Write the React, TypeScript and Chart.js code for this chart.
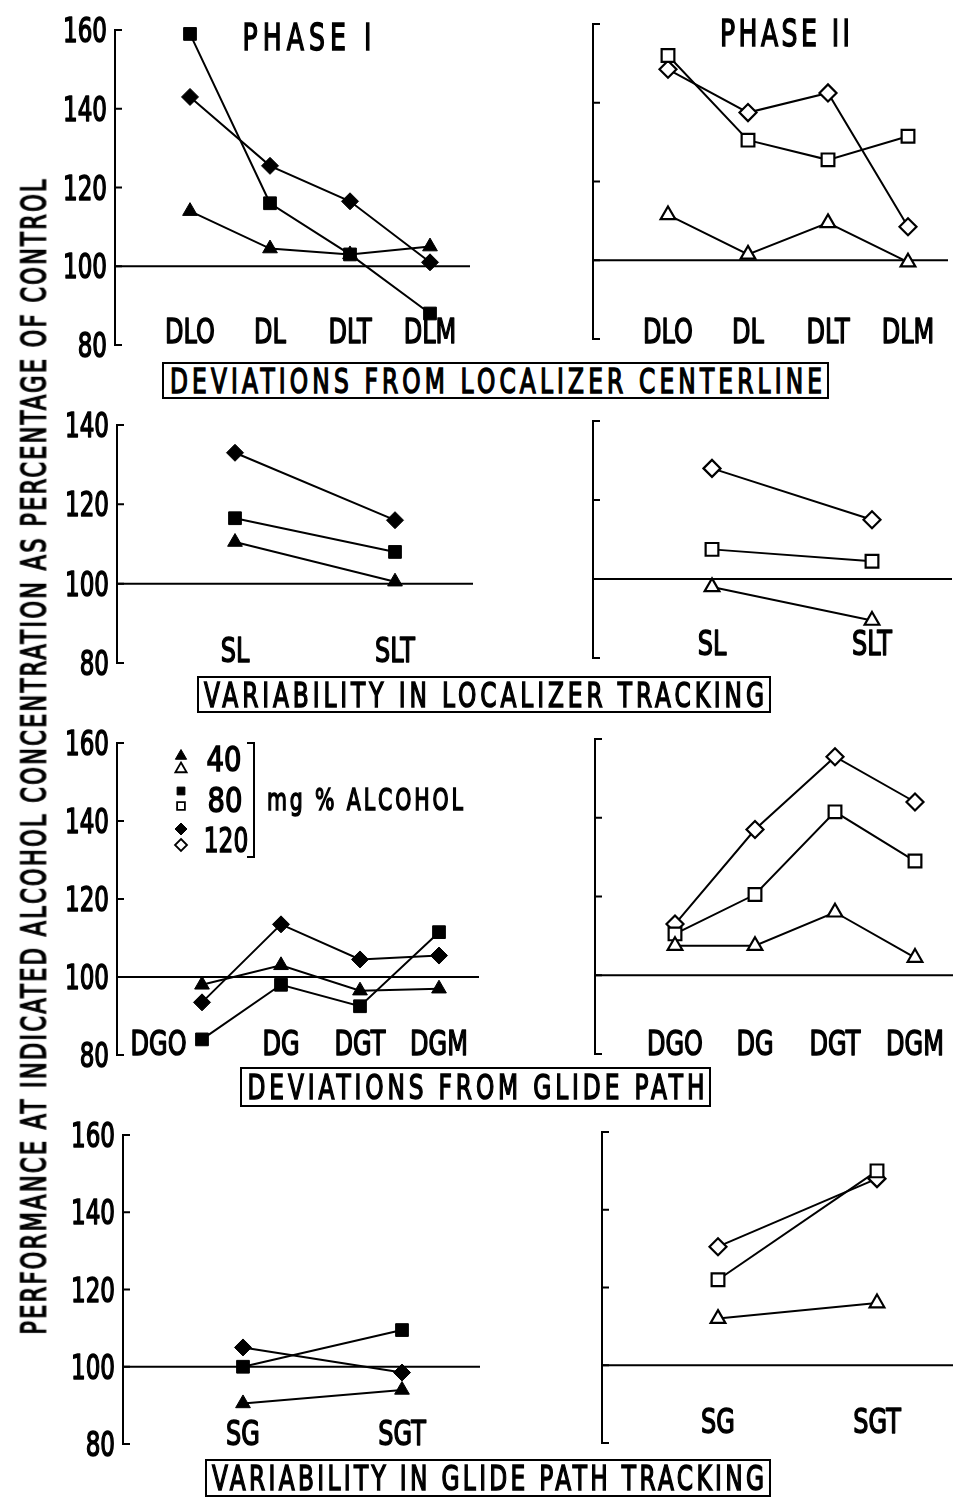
import React, { useEffect, useRef } from 'react';
import { Chart, registerables } from 'chart.js';

Chart.register(...registerables);

// ---- values: performance as % of control, per dose (40, 80, 120 mg %) ----
const Y_TICKS_160 = [80, 100, 120, 140, 160];
const Y_TICKS_140 = [80, 100, 120, 140];

const DEV_LOC_CATS = ['DLO', 'DL', 'DLT', 'DLM'];
const DEV_LOC_P1_40 = [114, 104.5, 103, 105];
const DEV_LOC_P1_80 = [159, 116, 103, 88];
const DEV_LOC_P1_120 = [143, 125.5, 116.5, 101];
const DEV_LOC_P2_40 = [111.5, 101.5, 109.5, 99.5];
const DEV_LOC_P2_80 = [152, 130.5, 125.5, 131.5];
const DEV_LOC_P2_120 = [148.5, 137.5, 142.5, 108.5];

const VAR_LOC_CATS = ['SL', 'SLT'];
const VAR_LOC_P1_40 = [110.5, 100.5];
const VAR_LOC_P1_80 = [116.5, 108];
const VAR_LOC_P1_120 = [133, 116];
const VAR_LOC_P2_40 = [98, 89.5];
const VAR_LOC_P2_80 = [107.5, 104.5];
const VAR_LOC_P2_120 = [128, 115];

const DEV_GLIDE_CATS = ['DGO', 'DG', 'DGT', 'DGM'];
const DEV_GLIDE_P1_40 = [98, 103, 96.5, 97];
const DEV_GLIDE_P1_80 = [84, 98, 92.5, 111.5];
const DEV_GLIDE_P1_120 = [93.5, 113.5, 104.5, 105.5];
const DEV_GLIDE_P2_40 = [107.5, 107.5, 116, 104.5];
const DEV_GLIDE_P2_80 = [110.5, 120.5, 141.5, 129];
const DEV_GLIDE_P2_120 = [113, 137, 155.5, 144];

const VAR_GLIDE_CATS = ['SG', 'SGT'];
const VAR_GLIDE_P1_40 = [90.5, 94];
const VAR_GLIDE_P1_80 = [100, 109.5];
const VAR_GLIDE_P1_120 = [105, 98.5];
const VAR_GLIDE_P2_40 = [112, 116];
const VAR_GLIDE_P2_80 = [122, 150];
const VAR_GLIDE_P2_120 = [130.5, 148];

const DOSE_LABELS = ['40', '80', '120'];

// ---- styling ----
type Marker = 'triangle' | 'rect' | 'rectRot';
const DOSE_MARKERS: Marker[] = ['triangle', 'rect', 'rectRot'];
const DOSE_RADII = [8.5, 9, 8.5];

const FONT = '"DejaVu Sans", "Liberation Sans", Arial, sans-serif';
const CAP = 0.729; // cap height / em for DejaVu Sans
const SQUEEZE = 0.7; // narrow lettering-guide style for axis labels
const CAPTION_SQUEEZE = 0.68;
const PEN = 1.2; // extra outline giving the letters a pen-like weight

let measureCtx: CanvasRenderingContext2D | null = null;
function textWidth(text: string, size: number): number {
  if (!measureCtx) measureCtx = document.createElement('canvas').getContext('2d');
  measureCtx!.font = `${size}px ${FONT}`;
  return measureCtx!.measureText(text).width;
}

function drawLetters(
  ctx: CanvasRenderingContext2D,
  text: string,
  x: number,
  y: number,
  cap: number,
  align: CanvasTextAlign
) {
  const size = cap / CAP;
  ctx.save();
  ctx.font = `${size}px ${FONT}`;
  ctx.textAlign = align;
  ctx.textBaseline = 'alphabetic';
  ctx.fillStyle = '#000';
  ctx.strokeStyle = '#000';
  ctx.lineJoin = 'round';
  ctx.translate(x, y + cap / 2);
  ctx.scale(SQUEEZE, 1);
  ctx.lineWidth = PEN * 1.3;
  ctx.fillText(text, 0, 0);
  ctx.strokeText(text, 0, 0);
  ctx.restore();
}

function drawShape(
  ctx: CanvasRenderingContext2D,
  style: Marker,
  cx: number,
  cy: number,
  r: number,
  filled: boolean
) {
  ctx.beginPath();
  if (style === 'triangle') {
    ctx.moveTo(cx, cy - r);
    ctx.lineTo(cx + r * 0.866, cy + r / 2);
    ctx.lineTo(cx - r * 0.866, cy + r / 2);
    ctx.closePath();
  } else if (style === 'rect') {
    const s = r * Math.SQRT1_2;
    ctx.rect(cx - s, cy - s, 2 * s, 2 * s);
  } else {
    ctx.moveTo(cx, cy - r);
    ctx.lineTo(cx + r, cy);
    ctx.lineTo(cx, cy + r);
    ctx.lineTo(cx - r, cy);
    ctx.closePath();
  }
  ctx.fillStyle = filled ? '#000' : '#fff';
  ctx.fill();
  ctx.lineWidth = filled ? 1 : 1.8;
  ctx.strokeStyle = '#000';
  ctx.stroke();
}

interface Layout {
  axisX: number;
  topY: number;
  bottomY: number;
  endX: number;
  firstX: number;
  step: number;
  labelValue: number;
  showTicks: boolean;
  firstLabelAt?: number;
}

interface Panel {
  cats: string[];
  series: number[][];
  filled: boolean;
  yTicks: number[];
  layout: Layout;
  legend?: boolean;
}

const PANELS: Panel[] = [
  {
    cats: DEV_LOC_CATS,
    series: [DEV_LOC_P1_40, DEV_LOC_P1_80, DEV_LOC_P1_120],
    filled: true,
    yTicks: Y_TICKS_160,
    layout: { axisX: 115, topY: 30, bottomY: 345, endX: 470, firstX: 190, step: 80, labelValue: 83.6, showTicks: true },
  },
  {
    cats: DEV_LOC_CATS,
    series: [DEV_LOC_P2_40, DEV_LOC_P2_80, DEV_LOC_P2_120],
    filled: false,
    yTicks: Y_TICKS_160,
    layout: { axisX: 593, topY: 24, bottomY: 339, endX: 948, firstX: 668, step: 80, labelValue: 82.2, showTicks: false },
  },
  {
    cats: VAR_LOC_CATS,
    series: [VAR_LOC_P1_40, VAR_LOC_P1_80, VAR_LOC_P1_120],
    filled: true,
    yTicks: Y_TICKS_140,
    layout: { axisX: 117, topY: 425, bottomY: 663, endX: 473, firstX: 235, step: 160, labelValue: 83.3, showTicks: true },
  },
  {
    cats: VAR_LOC_CATS,
    series: [VAR_LOC_P2_40, VAR_LOC_P2_80, VAR_LOC_P2_120],
    filled: false,
    yTicks: Y_TICKS_140,
    layout: { axisX: 593, topY: 421, bottomY: 658, endX: 952, firstX: 712, step: 160, labelValue: 83.8, showTicks: false },
  },
  {
    cats: DEV_GLIDE_CATS,
    series: [DEV_GLIDE_P1_40, DEV_GLIDE_P1_80, DEV_GLIDE_P1_120],
    filled: true,
    yTicks: Y_TICKS_160,
    legend: true,
    layout: { axisX: 117, topY: 743, bottomY: 1055, endX: 479, firstX: 202, step: 79, labelValue: 83.1, showTicks: true, firstLabelAt: -0.55 },
  },
  {
    cats: DEV_GLIDE_CATS,
    series: [DEV_GLIDE_P2_40, DEV_GLIDE_P2_80, DEV_GLIDE_P2_120],
    filled: false,
    yTicks: Y_TICKS_160,
    layout: { axisX: 595, topY: 739, bottomY: 1054, endX: 953, firstX: 675, step: 80, labelValue: 82.8, showTicks: false },
  },
  {
    cats: VAR_GLIDE_CATS,
    series: [VAR_GLIDE_P1_40, VAR_GLIDE_P1_80, VAR_GLIDE_P1_120],
    filled: true,
    yTicks: Y_TICKS_160,
    layout: { axisX: 123, topY: 1135, bottomY: 1444, endX: 480, firstX: 243, step: 159, labelValue: 83.1, showTicks: true },
  },
  {
    cats: VAR_GLIDE_CATS,
    series: [VAR_GLIDE_P2_40, VAR_GLIDE_P2_80, VAR_GLIDE_P2_120],
    filled: false,
    yTicks: Y_TICKS_160,
    layout: { axisX: 602, topY: 1132, bottomY: 1443, endX: 953, firstX: 718, step: 159, labelValue: 85.7, showTicks: false },
  },
];

// legend key: filled / open pairs for each dose (page coordinates)
const LEGEND_KEY_X = 181;
const LEGEND_KEY_Y = [[756, 769], [791, 806], [829, 845]];
const LEGEND_KEY_R = [6.5, 5.5, 6];

function PanelChart({ panel }: { panel: Panel }) {
  const ref = useRef<HTMLCanvasElement>(null);
  const L = panel.layout;
  const padL = L.showTicks ? 62 : 12;
  const padR = 12;
  const padT = 16;
  const padB = 14;
  const left = L.axisX - padL;
  const top = L.topY - padT;
  const width = L.endX - L.axisX + padL + padR;
  const height = L.bottomY - L.topY + padT + padB;
  const yMax = panel.yTicks[panel.yTicks.length - 1];

  useEffect(() => {
    const framePlugin = {
      id: 'frame',
      beforeDatasetsDraw(chart: any) {
        const { ctx, chartArea: a, scales } = chart;
        const x = scales.x;
        const y = scales.y;
        ctx.save();
        ctx.strokeStyle = '#000';
        ctx.lineWidth = 2;
        ctx.lineCap = 'square';
        ctx.beginPath();
        ctx.moveTo(a.left, y.getPixelForValue(yMax));
        ctx.lineTo(a.left, y.getPixelForValue(80));
        for (const t of panel.yTicks) {
          const py = y.getPixelForValue(t);
          ctx.moveTo(a.left, py);
          ctx.lineTo(a.left + 6, py);
        }
        ctx.stroke();
        // control level (100 %)
        const y100 = y.getPixelForValue(100);
        ctx.beginPath();
        ctx.lineCap = 'butt';
        ctx.moveTo(a.left, y100);
        ctx.lineTo(a.right, y100);
        ctx.stroke();
        ctx.restore();

        if (L.showTicks) {
          for (const t of panel.yTicks) {
            drawLetters(ctx, String(t), a.left - 8, y.getPixelForValue(t), 24, 'right');
          }
        }
        const ly = y.getPixelForValue(L.labelValue);
        panel.cats.forEach((c, i) => {
          const pos = i === 0 && L.firstLabelAt !== undefined ? L.firstLabelAt : i;
          drawLetters(ctx, c, x.getPixelForValue(pos), ly, 25, 'center');
        });
      },
      afterDatasetsDraw(chart: any) {
        if (!panel.legend) return;
        const ctx = chart.ctx;
        ctx.save();
        DOSE_MARKERS.forEach((m, k) => {
          drawShape(ctx, m, LEGEND_KEY_X - left, LEGEND_KEY_Y[k][0] - top, LEGEND_KEY_R[k], true);
          drawShape(ctx, m, LEGEND_KEY_X - left, LEGEND_KEY_Y[k][1] - top, LEGEND_KEY_R[k], false);
        });
        ctx.restore();
      },
    };

    const chart = new Chart(ref.current!, {
      type: 'line',
      data: {
        datasets: panel.series.map((vals, k) => ({
          label: DOSE_LABELS[k],
          data: vals.map((v, i) => ({ x: i, y: v })),
          borderColor: '#000',
          borderWidth: 2,
          pointStyle: DOSE_MARKERS[k],
          pointRadius: DOSE_RADII[k],
          pointBackgroundColor: panel.filled ? '#000' : '#fff',
          pointBorderColor: '#000',
          pointBorderWidth: panel.filled ? 1 : 2.2,
          tension: 0,
          clip: false as any,
          fill: false,
        })),
      },
      options: {
        responsive: false,
        animation: false,
        devicePixelRatio: 1,
        events: [],
        layout: { padding: { left: padL, right: padR, top: padT, bottom: padB } },
        scales: {
          x: {
            type: 'linear',
            display: false,
            min: (L.axisX - L.firstX) / L.step,
            max: (L.endX - L.firstX) / L.step,
          },
          y: { type: 'linear', display: false, min: 80, max: yMax },
        },
        plugins: { legend: { display: false }, tooltip: { enabled: false } },
      },
      plugins: [framePlugin],
    });
    return () => chart.destroy();
  }, []);

  return (
    <canvas
      ref={ref}
      width={width}
      height={height}
      style={{ position: 'absolute', left, top, width, height }}
    />
  );
}

// Lettered text: fixed horizontal squeeze; when `width` is given the letter
// spacing is opened up so the text spans that width.
function Lettering({
  text,
  cx,
  cy,
  cap,
  width,
  rotate = 0,
  squeeze = CAPTION_SQUEEZE,
}: {
  text: string;
  cx: number;
  cy: number;
  cap: number;
  width?: number;
  rotate?: number;
  squeeze?: number;
}) {
  const size = cap / CAP;
  const natural = textWidth(text, size);
  const n = Math.max(1, text.length - 1);
  const spacing = width ? (width / squeeze - natural) / n : 0;
  return (
    <div
      style={{
        position: 'absolute',
        left: cx,
        top: cy,
        fontFamily: FONT,
        fontWeight: 'normal',
        fontSize: size,
        lineHeight: `${size}px`,
        letterSpacing: `${spacing}px`,
        paddingLeft: `${spacing}px`,
        whiteSpace: 'nowrap',
        color: '#000',
        WebkitTextStroke: `${(PEN * 1.3).toFixed(2)}px #000`,
        transform: `translate(-50%, -50%) rotate(${rotate}deg) scaleX(${squeeze})`,
      }}
    >
      {text}
    </div>
  );
}

function CaptionBox({
  text,
  x0,
  x1,
  y0,
  y1,
  textWidth: tw,
}: {
  text: string;
  x0: number;
  x1: number;
  y0: number;
  y1: number;
  textWidth: number;
}) {
  return (
    <>
      <div
        style={{
          position: 'absolute',
          left: x0,
          top: y0,
          width: x1 - x0,
          height: y1 - y0,
          border: '2px solid #000',
          boxSizing: 'border-box',
        }}
      />
      <Lettering text={text} cx={(x0 + x1) / 2} cy={(y0 + y1) / 2} cap={25} width={tw} />
    </>
  );
}

export default function App() {
  return (
    <div
      style={{
        position: 'absolute',
        left: 0,
        top: 0,
        width: 953,
        height: 1500,
        background: '#fff',
        overflow: 'hidden',
      }}
    >
      {PANELS.map((p, i) => (
        <PanelChart key={i} panel={p} />
      ))}

      <Lettering text="PHASE I" cx={307} cy={38} cap={27} width={129} />
      <Lettering text="PHASE II" cx={785} cy={34} cap={27} width={130} />

      <Lettering
        text="PERFORMANCE AT INDICATED ALCOHOL CONCENTRATION AS PERCENTAGE OF CONTROL"
        cx={35}
        cy={757}
        cap={24}
        width={1155}
        rotate={-90}
      />

      <CaptionBox text="DEVIATIONS FROM LOCALIZER CENTERLINE" x0={162} x1={829} y0={362} y1={399} textWidth={652} />
      <CaptionBox text="VARIABILITY IN LOCALIZER TRACKING" x0={197} x1={771} y0={676} y1={713} textWidth={560} />
      <CaptionBox text="DEVIATIONS FROM GLIDE PATH" x0={240} x1={711} y0={1067} y1={1107} textWidth={457} />
      <CaptionBox text="VARIABILITY IN GLIDE PATH TRACKING" x0={205} x1={771} y0={1459} y1={1497} textWidth={552} />

      {/* dose key */}
      <Lettering text={DOSE_LABELS[0]} cx={224} cy={759} cap={25} squeeze={0.8} />
      <Lettering text={DOSE_LABELS[1]} cx={225} cy={800} cap={25} squeeze={0.8} />
      <Lettering text={DOSE_LABELS[2]} cx={226} cy={840} cap={25} squeeze={0.68} />
      <div
        style={{
          position: 'absolute',
          left: 247,
          top: 742,
          width: 8,
          height: 116,
          borderTop: '2px solid #000',
          borderRight: '2px solid #000',
          borderBottom: '2px solid #000',
          boxSizing: 'border-box',
        }}
      />
      <Lettering text="mg % ALCOHOL" cx={365} cy={800} cap={22} width={196} />
    </div>
  );
}
